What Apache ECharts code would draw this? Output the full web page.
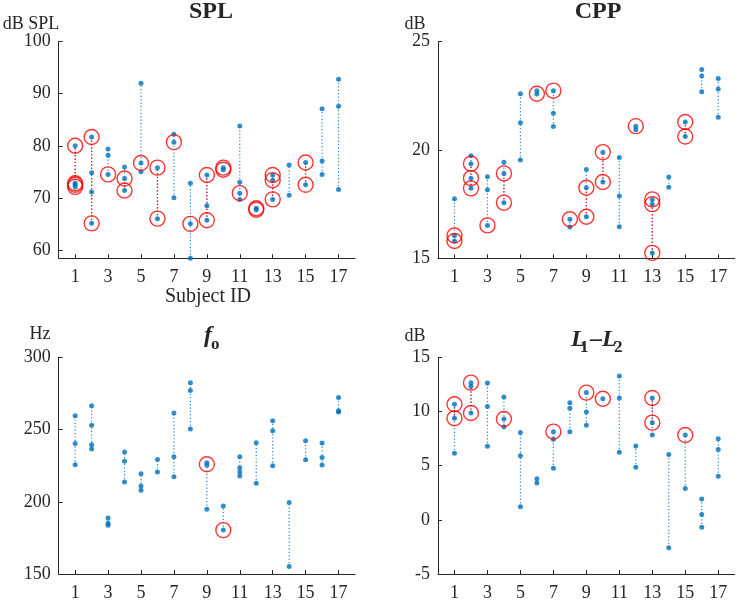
<!DOCTYPE html>
<html>
<head>
<meta charset="utf-8">
<script src="https://cdn.jsdelivr.net/npm/echarts@6/dist/echarts.min.js"></script>
<style>
  html, body { margin: 0; padding: 0; background: #fff; }
  #chart { width: 736px; height: 602px; }
</style>
</head>
<body>
<div id="chart"></div>
<script>
var subjects = [1, 2, 3, 4, 5, 6, 7, 8, 9, 10, 11, 12, 13, 14, 15, 16, 17]
var xTicks = [1, 3, 5, 7, 9, 11, 13, 15, 17]

// measured values per subject, and the ones circled in red
var splPoints = [
  [80.0, 72.8, 72.5, 72.1], [81.7, 74.8, 71.1, 65.1], [79.4, 78.2, 74.5], [75.9, 73.7, 71.4],
  [92.0, 76.7, 75.0], [75.8, 66.0], [82.2, 80.7, 70.0], [72.8, 65.0, 58.4], [74.4, 68.5, 65.7],
  [75.8, 75.4], [83.8, 73.0, 70.9, 69.7], [68.0, 67.7], [74.4, 73.4, 69.7], [76.3, 70.5],
  [76.8, 72.5], [87.1, 77.1, 74.5], [92.8, 87.6, 71.6]
]
var splMarked = [
  [80.0, 72.8, 72.5, 72.1], [81.7, 65.1], [74.5], [73.7, 71.4], [76.7], [75.8, 66.0], [80.7],
  [65.0], [74.4, 65.7], [75.8, 75.4], [70.9], [68.0, 67.7], [74.4, 73.4, 69.7], [],
  [76.8, 72.5], [], []
]
var cppPoints = [
  [17.75, 16.05, 15.8], [19.74, 19.37, 18.7, 18.23], [18.77, 18.17, 16.52], [19.43, 18.92, 17.57],
  [22.6, 21.26, 19.54], [22.74, 22.58], [22.74, 21.7, 21.08], [16.8, 16.45], [19.1, 18.26, 16.92],
  [19.9, 18.52], [19.65, 17.88, 16.46], [21.1, 20.94], [17.72, 17.5, 15.25], [18.75, 18.28],
  [21.29, 20.62], [23.72, 23.42, 22.69], [23.3, 22.82, 21.51]
]
var cppMarked = [
  [16.05, 15.8], [19.37, 18.7, 18.23], [16.52], [18.92, 17.57], [], [22.6], [22.74], [16.8],
  [18.26, 16.92], [19.9, 18.52], [], [21.1], [17.72, 17.5, 15.25], [], [21.29, 20.62], [], []
]
var foPoints = [
  [259.6, 240.4, 225.6], [266.5, 252.9, 239.5, 236.5], [188.7, 185.2, 183.8], [234.4, 228.0, 213.6],
  [219.4, 210.9, 207.9], [229.3, 220.6], [261.4, 231.2, 217.3], [282.4, 277.1, 250.3],
  [227.0, 225.2, 194.9], [197.0, 180.4], [231.2, 223.6, 220.6, 217.8], [240.9, 212.9],
  [256.1, 249.2, 224.9], [199.5, 155.2], [242.3, 229.1], [240.6, 230.7, 225.4], [272.1, 263.0, 262.1]
]
var foMarked = [
  [], [], [], [], [], [], [], [], [226.0], [180.4], [], [], [], [], [], [], []
]
var ldPoints = [
  [10.66, 9.37, 6.14], [12.66, 12.32, 9.86], [12.63, 10.45, 6.78], [11.34, 9.31, 8.6],
  [8.05, 5.92, 1.2], [3.8, 3.4], [8.14, 7.43, 4.75], [10.8, 10.29, 8.14], [11.74, 9.95, 8.72],
  [11.18], [13.28, 11.25, 6.23], [6.82, 4.85], [11.25, 8.97, 7.83], [6.02, -2.57],
  [7.83, 2.88], [1.92, 0.48, -0.69], [7.49, 6.48, 4.02]
]
var ldMarked = [
  [10.66, 9.37], [12.66, 9.86], [], [9.31], [], [], [8.14], [], [11.74], [11.18], [],
  [], [11.25, 8.97], [], [7.83], [], []
]

var panels = [
  { points: splPoints, marked: splMarked, min: 58.4, max: 100, ticks: [60, 70, 80, 90, 100],
    grid: { left: 58.7, top: 41.7, width: 296.3, height: 216.5 } },
  { points: cppPoints, marked: cppMarked, min: 15, max: 25, ticks: [15, 20, 25],
    grid: { left: 438, top: 41.7, width: 296.7, height: 216.6 } },
  { points: foPoints, marked: foMarked, min: 150, max: 300, ticks: [150, 200, 250, 300],
    grid: { left: 58.7, top: 357.3, width: 296.3, height: 216.7 } },
  { points: ldPoints, marked: ldMarked, min: -5, max: 15, ticks: [-5, 0, 5, 10, 15],
    grid: { left: 438, top: 357.3, width: 296.7, height: 216.7 } }
]

var axisColor = '#262626'
var serif = 'Liberation Serif, Times New Roman, serif'

function ranges (lists) {
  var out = []
  lists.forEach(function (vals, i) {
    if (vals.length > 1) out.push([subjects[i], Math.min.apply(null, vals), Math.max.apply(null, vals)])
  })
  return out
}

function flat (lists) {
  var out = []
  lists.forEach(function (vals, i) {
    vals.forEach(function (v) { out.push([subjects[i], v]) })
  })
  return out
}

function dottedRange (color) {
  return function (params, api) {
    var a = api.coord([api.value(0), api.value(1)])
    var b = api.coord([api.value(0), api.value(2)])
    return {
      type: 'line',
      shape: { x1: a[0], y1: a[1], x2: b[0], y2: b[1] },
      style: { stroke: color, lineWidth: 1.2, lineDash: [1.2, 2.2] }
    }
  }
}

var grids = [], xAxes = [], yAxes = [], series = []
panels.forEach(function (p, k) {
  grids.push(p.grid)
  xAxes.push({
    type: 'value', gridIndex: k, min: 0, max: 18,
    axisLine: { onZero: false, lineStyle: { color: axisColor, width: 1 } },
    axisTick: { inside: true, length: 4, customValues: xTicks, lineStyle: { color: axisColor } },
    axisLabel: { customValues: xTicks, color: axisColor, fontFamily: serif, fontSize: 18, margin: 10 },
    splitLine: { show: false }
  })
  yAxes.push({
    type: 'value', gridIndex: k, min: p.min, max: p.max,
    axisLine: { show: true, onZero: false, lineStyle: { color: axisColor, width: 1 } },
    axisTick: { show: true, inside: true, length: 4, customValues: p.ticks, lineStyle: { color: axisColor } },
    axisLabel: { customValues: p.ticks, color: axisColor, fontFamily: serif, fontSize: 18, margin: 8 },
    splitLine: { show: false }
  })
  series.push({
    type: 'custom', xAxisIndex: k, yAxisIndex: k, z: 1,
    renderItem: dottedRange('#2a86d0'),
    encode: { x: 0, y: [1, 2] },
    data: ranges(p.points)
  })
  series.push({
    type: 'custom', xAxisIndex: k, yAxisIndex: k, z: 2,
    renderItem: dottedRange('#ff0000'),
    encode: { x: 0, y: [1, 2] },
    data: ranges(p.marked)
  })
  series.push({
    type: 'scatter', xAxisIndex: k, yAxisIndex: k, z: 3,
    symbol: 'circle', symbolSize: 5,
    itemStyle: { color: '#0072bd' },
    data: flat(p.points)
  })
  series.push({
    type: 'scatter', xAxisIndex: k, yAxisIndex: k, z: 4,
    symbol: 'circle', symbolSize: 15,
    itemStyle: { color: 'rgba(0,0,0,0)', borderColor: '#ff0000', borderWidth: 1.4 },
    data: flat(p.marked)
  })
})

function txt (s, x, y, font, align) {
  return {
    type: 'text', x: x, y: y, z: 10,
    style: { text: s, font: font, fill: axisColor, align: align || 'center', verticalAlign: 'middle' }
  }
}

var titleFont = 'bold 24px ' + serif
var titleItalic = 'italic bold 24px ' + serif
var subFont = 'bold 17px ' + serif
var unitFont = '18px ' + serif

var chart = echarts.init(document.getElementById('chart'), null, { renderer: 'canvas' })
chart.setOption({
  animation: false,
  grid: grids,
  xAxis: xAxes,
  yAxis: yAxes,
  series: series,
  graphic: [
    txt('SPL', 211, 12, titleFont),
    txt('CPP', 598, 12, titleFont),
    txt('dB SPL', 31, 24, unitFont),
    txt('dB', 415, 24, unitFont),
    txt('Subject ID', 208, 297, '20px ' + serif),
    txt('Hz', 40, 334, unitFont),
    txt('dB', 415, 336, unitFont),
    txt('f', 204, 336, titleItalic, 'left'),
    txt('o', 211, 345, subFont, 'left'),
    txt('L', 571, 340, titleItalic, 'left'),
    txt('1', 580, 348, subFont, 'left'),
    txt('\u2013', 590, 340, titleFont, 'left'),
    txt('L', 602, 340, titleItalic, 'left'),
    txt('2', 614, 348, subFont, 'left')
  ]
})
</script>
</body>
</html>
